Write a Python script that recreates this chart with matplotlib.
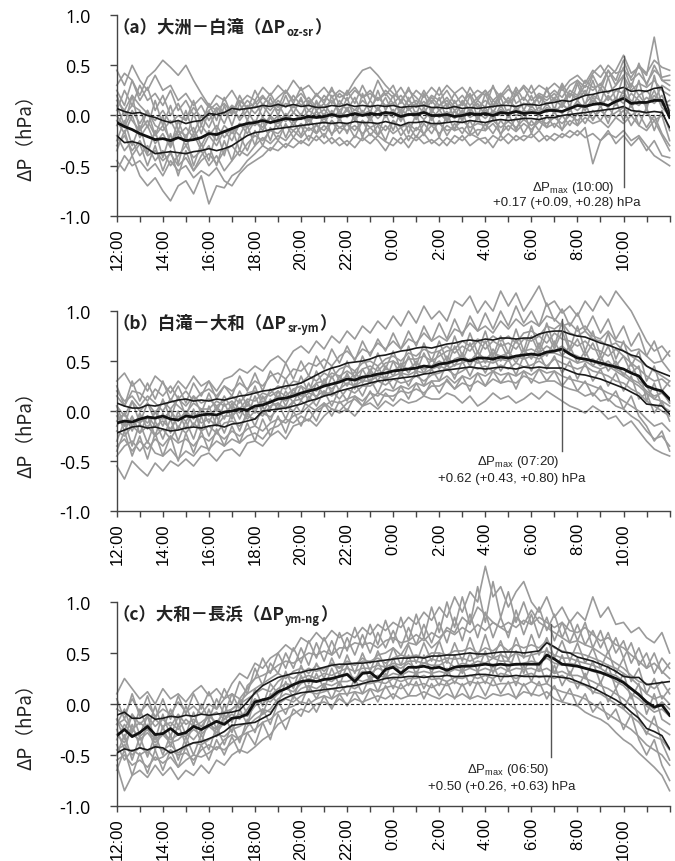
import numpy as np
import matplotlib
matplotlib.use("Agg")
import matplotlib.pyplot as plt
from matplotlib.transforms import offset_copy

plt.rcParams['font.family'] = ['Liberation Sans', 'Noto Sans CJK JP', 'DejaVu Sans']
plt.rcParams['mathtext.fontset'] = 'custom'
plt.rcParams['mathtext.rm'] = 'Liberation Sans'
plt.rcParams['mathtext.it'] = 'Liberation Sans:italic'
plt.rcParams['mathtext.bf'] = 'Liberation Sans:bold'

# ---------------- data (hPa), every 20 min from 12:00 to 12:00 next day ----------------
minutes_from_noon = np.arange(0, 24 * 60 + 1, 20)

# panel (a) 大洲－白滝
median_a = [-0.07,-0.11,-0.14, -0.18,-0.21,-0.24, -0.23,-0.25,-0.22, -0.25,-0.24,-0.22, -0.18,-0.19,-0.16, -0.13,-0.10,-0.08,
            -0.07,-0.05,-0.07, -0.05,-0.03,-0.04, -0.03,-0.01,-0.02, -0.01,0.01,-0.01, 0.00,0.02,0.00, 0.02,0.01,0.03,
            0.02,-0.01,0.01, 0.01,0.03,0.00, 0.00,0.01,-0.01, 0.00,0.02,0.01, 0.02,0.00,0.03, 0.02,0.04,0.02,
            0.03,0.02,0.05, 0.05,0.04,0.07, 0.10,0.09,0.11, 0.12,0.10,0.14, 0.17,0.12,0.13, 0.13,0.15,0.15, -0.02]
q75_a = [0.07,0.04,0.02, 0.03,0.00,-0.02, -0.05,-0.07,-0.05, -0.08,-0.06,-0.05, 0.02,0.01,0.03, 0.07,0.06,0.07,
         0.08,0.10,0.09, 0.11,0.09,0.11, 0.09,0.10,0.08, 0.08,0.10,0.09, 0.11,0.09,0.10, 0.09,0.10,0.09,
         0.10,0.08,0.09, 0.09,0.10,0.08, 0.08,0.07,0.09, 0.07,0.08,0.07, 0.08,0.09,0.10, 0.10,0.09,0.11,
         0.11,0.10,0.12, 0.13,0.15,0.14, 0.17,0.20,0.21, 0.23,0.24,0.26, 0.28,0.24,0.25, 0.24,0.27,0.28, 0.02]
q25_a = [-0.20,-0.27,-0.26, -0.28,-0.33,-0.38, -0.37,-0.36,-0.37, -0.38,-0.36,-0.35, -0.33,-0.35,-0.33, -0.30,-0.25,-0.20,
         -0.17,-0.16,-0.14, -0.13,-0.12,-0.11, -0.10,-0.09,-0.08, -0.07,-0.08,-0.07, -0.08,-0.06,-0.07, -0.07,-0.08,-0.06,
         -0.08,-0.10,-0.07, -0.07,-0.06,-0.08, -0.08,-0.07,-0.06, -0.07,-0.05,-0.06, -0.07,-0.05,-0.04, -0.05,-0.04,-0.03,
         -0.03,-0.04,-0.02, -0.02,0.00,0.01, 0.02,0.03,0.04, 0.05,0.06,0.07, 0.09,0.05,0.04, 0.03,0.04,0.03, -0.12]
days_a = [
    [0.30,0.42,0.35, 0.20,0.38,0.45, 0.55,0.48,0.40, 0.50,0.35,0.22, 0.10,0.05,0.12, 0.02,0.15,0.08, 0.12,0.20,0.10, 0.18,0.25,0.15,
     0.22,0.12,0.20, 0.15,0.25,0.18, 0.22,0.35,0.45, 0.48,0.40,0.30, 0.22,0.15,0.25, 0.18,0.10,0.20, 0.15,0.25,0.12, 0.20,0.10,0.18,
     0.25,0.15,0.22, 0.12,0.20,0.28, 0.15,0.22,0.18, 0.25,0.18,0.30, 0.35,0.28,0.42, 0.50,0.38,0.45, 0.60,0.42,0.48, 0.40,0.78,0.35, 0.30],
    [-0.45,-0.55,-0.40, -0.60,-0.70,-0.62, -0.75,-0.85,-0.70, -0.65,-0.78,-0.60, -0.88,-0.70,-0.72, -0.60,-0.55,-0.45, -0.38,-0.30,-0.35, -0.25,-0.32,-0.22,
     -0.28,-0.20,-0.25, -0.18,-0.28,-0.22, -0.30,-0.20,-0.25, -0.18,-0.25,-0.35, -0.22,-0.28,-0.20, -0.25,-0.18,-0.28, -0.22,-0.30,-0.20, -0.25,-0.18,-0.22,
     -0.28,-0.20,-0.25, -0.18,-0.25,-0.20, -0.22,-0.15,-0.25, -0.18,-0.22,-0.15, -0.20,-0.12,-0.48, -0.25,-0.18,-0.22, -0.15,-0.25,-0.20, -0.30,-0.40,-0.45, -0.50],
    [0.15,0.05,0.20, 0.10,0.02,-0.05, 0.05,-0.08,0.00, -0.05,0.08,-0.02, 0.05,0.12,0.02, 0.10,0.05,0.15, 0.08,0.18,0.12, 0.05,0.12,0.08,
     0.15,0.05,0.12, 0.08,0.15,0.05, 0.12,0.05,0.15, 0.08,0.18,0.10, 0.12,0.05,0.15, 0.08,0.14,0.06, 0.10,0.18,0.08, 0.12,0.05,0.15,
     0.08,0.30,0.10, 0.15,0.08,0.12, 0.10,0.18,0.12, 0.15,0.10,0.22, 0.18,0.30,0.25, 0.32,0.22,0.30, 0.40,0.25,0.32, 0.28,0.35,0.25, 0.20],
    [-0.30,-0.20,-0.35, -0.25,-0.40,-0.35, -0.45,-0.38,-0.50, -0.42,-0.55,-0.45, -0.38,-0.48,-0.35, -0.30,-0.40,-0.28, -0.20,-0.25,-0.15, -0.18,-0.10,-0.15,
     -0.08,-0.15,-0.10, -0.15,-0.05,-0.12, -0.08,-0.15,-0.05, -0.12,-0.08,-0.15, -0.05,-0.12,-0.08, -0.15,-0.05,-0.10, -0.08,-0.15,-0.12, -0.05,-0.12,-0.08,
     -0.10,-0.05,-0.12, -0.06,-0.12,-0.04, -0.10,-0.05,-0.08, -0.02,-0.08,0.00, -0.05,0.02,-0.03, 0.05,-0.02,0.03, 0.08,0.00,0.05, 0.02,-0.05,0.00, -0.25],
    [-0.10,0.05,-0.05, -0.15,-0.05,-0.20, -0.10,-0.25,-0.15, -0.20,-0.12,-0.30, -0.15,-0.25,-0.10, -0.18,-0.08,-0.12, -0.05,-0.12,0.00, -0.08,0.02,-0.05,
     0.00,-0.06,0.04, -0.04,0.03,-0.02, 0.05,-0.03,0.02, -0.02,0.06,0.00, 0.04,-0.04,0.02, -0.02,0.05,-0.03, 0.02,-0.05,0.04, -0.03,0.04,-0.01,
     0.05,-0.02,0.06, 0.00,0.07,0.02, 0.06,0.00,0.08, 0.04,0.10,0.06, 0.12,0.08,0.15, 0.10,0.18,0.12, 0.20,0.15,0.10, 0.18,0.12,0.20, 0.05],
    [-0.20,-0.35,-0.25, -0.40,-0.30,-0.45, -0.35,-0.50,-0.40, -0.30,-0.42,-0.35, -0.50,-0.40,-0.55, -0.45,-0.35,-0.40, -0.30,-0.22,-0.28, -0.20,-0.25,-0.15,
     -0.22,-0.12,-0.18, -0.10,-0.18,-0.12, -0.15,-0.10,-0.18, -0.12,-0.20,-0.10, -0.18,-0.12,-0.25, -0.12,-0.18,-0.10, -0.18,-0.10,-0.15, -0.12,-0.20,-0.14,
     -0.15,-0.08,-0.18, -0.10,-0.16,-0.08, -0.14,-0.06,-0.12, -0.08,-0.14,-0.05, -0.10,-0.02,-0.08, -0.05,-0.12,-0.02, -0.08,0.00,-0.10, -0.15,-0.05,-0.20, -0.35],
    [0.05,0.25,0.10, 0.30,0.15,0.22, 0.10,0.25,0.05, 0.15,0.00,0.10, -0.05,0.08,0.00, 0.05,-0.02,0.10, 0.02,0.12,0.05, 0.15,0.08,0.20,
     0.10,0.18,0.08, 0.20,0.12,0.22, 0.15,0.25,0.18, 0.22,0.15,0.25, 0.18,0.28,0.15, 0.25,0.18,0.28, 0.20,0.30,0.22, 0.28,0.18,0.25,
     0.20,0.28,0.18, 0.26,0.20,0.30, 0.22,0.30,0.25, 0.32,0.25,0.35, 0.40,0.32,0.45, 0.38,0.50,0.42, 0.45,0.38,0.50, 0.42,0.55,0.48, 0.45],
    [-0.55,-0.40,-0.50, -0.45,-0.55,-0.48, -0.60,-0.45,-0.55, -0.50,-0.62,-0.55, -0.60,-0.52,-0.65, -0.70,-0.58,-0.50, -0.45,-0.40,-0.32, -0.35,-0.28,-0.32,
     -0.25,-0.30,-0.20, -0.28,-0.22,-0.30, -0.25,-0.32,-0.22, -0.28,-0.20,-0.26, -0.30,-0.22,-0.32, -0.20,-0.28,-0.24, -0.30,-0.22,-0.28, -0.20,-0.30,-0.24,
     -0.22,-0.32,-0.20, -0.28,-0.20,-0.25, -0.18,-0.26,-0.20, -0.25,-0.18,-0.22, -0.15,-0.22,-0.18, -0.25,-0.15,-0.28, -0.20,-0.30,-0.22, -0.35,-0.25,-0.40, -0.42],
    [0.00,-0.12,0.05, -0.08,0.05,-0.10, -0.15,-0.05,-0.20, -0.12,-0.22,-0.10, -0.20,-0.10,-0.22, -0.12,-0.20,-0.05, -0.10,-0.02,-0.08, 0.00,-0.06,0.03,
     -0.04,0.05,0.00, 0.06,-0.02,0.04, -0.02,0.06,0.01, 0.05,-0.03,0.04, -0.02,0.06,0.00, 0.04,-0.04,0.05, -0.02,0.04,-0.03, 0.05,-0.02,0.03,
     -0.03,0.05,0.00, 0.06,0.00,0.05, 0.02,0.08,0.03, 0.08,0.02,0.10, 0.05,0.12,0.20, 0.15,0.08,0.18, 0.12,0.22,0.15, 0.10,0.20,0.12, 0.10],
    [0.45,0.30,0.50, 0.35,0.25,0.40, 0.25,0.30,0.15, 0.22,0.10,0.18, 0.08,0.20,0.15, 0.25,0.12,0.20, 0.15,0.28,0.20, 0.30,0.22,0.35,
     0.25,0.30,0.20, 0.28,0.18,0.25, 0.20,0.28,0.18, 0.25,0.15,0.22, 0.12,0.20,0.10, 0.15,0.08,0.18, 0.10,0.15,0.05, 0.12,0.22,0.08,
     0.15,0.08,0.20, 0.30,0.12,0.18, 0.10,0.20,0.15, 0.22,0.12,0.25, 0.20,0.35,0.28, 0.30,0.45,0.35, 0.55,0.35,0.42, 0.32,0.45,0.38, 0.40],
    [0.10,-0.10,0.20, -0.15,0.05,-0.20, 0.00,-0.30,-0.05, -0.25,0.02,-0.18, 0.05,-0.15,0.10, -0.10,0.12,-0.05, 0.15,-0.02,0.18, 0.00,0.20,0.02,
     0.18,-0.05,0.15, -0.02,0.20,0.00, 0.18,-0.05,0.22, 0.02,0.25,0.05, 0.20,-0.02,0.18, 0.00,0.22,0.02, 0.18,-0.05,0.15, 0.00,0.20,-0.02,
     0.22,0.02,0.18, 0.00,0.25,0.05, 0.20,0.02,0.28, 0.05,0.30,0.08, 0.32,0.10,0.35, 0.12,0.38,0.15, 0.40,0.10,0.35, 0.05,0.40,0.10, 0.15],
    [-0.25,-0.05,-0.30, -0.10,-0.38,-0.15, -0.42,-0.18,-0.48, -0.20,-0.50,-0.28, -0.45,-0.15,-0.40, -0.12,-0.35,-0.10, -0.30,-0.05,-0.25, -0.02,-0.22,-0.05,
     -0.20,0.00,-0.18, 0.02,-0.20,-0.02, -0.18,0.02,-0.22, 0.00,-0.20,0.02, -0.15,0.05,-0.18, 0.02,-0.20,0.00, -0.22,0.02,-0.15, 0.05,-0.18,0.00,
     -0.15,0.05,-0.20, 0.02,-0.15,0.05, -0.18,0.02,-0.12, 0.05,-0.15,0.08, -0.10,0.12,-0.05, 0.10,-0.08,0.15, -0.05,0.12,-0.10, 0.08,-0.15,0.05, -0.15],
    [0.20,0.00,0.10, 0.05,-0.12,0.15, -0.10,0.10,-0.15, 0.05,-0.18,0.00, -0.12,0.05,-0.08, 0.10,-0.05,0.05, -0.08,0.10,0.00, 0.12,-0.02,0.10,
     0.00,0.15,0.05, 0.12,0.00,0.15, 0.05,0.18,0.02, 0.15,0.05,0.18, 0.02,0.15,0.05, 0.12,0.02,0.15, 0.05,0.12,-0.02, 0.15,0.05,0.12,
     0.00,0.15,0.08, 0.18,0.05,0.12, 0.08,0.20,0.10, 0.18,0.08,0.22, 0.15,0.25,0.12, 0.28,0.15,0.25, 0.22,0.32,0.20, 0.25,0.15,0.30, 0.25],
    [-0.35,-0.15,-0.40, -0.28,-0.50,-0.30, -0.55,-0.35,-0.60, -0.35,-0.55,-0.40, -0.30,-0.50,-0.25, -0.45,-0.20,-0.35, -0.15,-0.30,-0.12, -0.25,-0.08,-0.22,
     -0.10,-0.25,-0.08, -0.22,-0.05,-0.18, -0.08,-0.22,-0.05, -0.20,-0.10,-0.25, -0.05,-0.20,-0.10, -0.22,-0.08,-0.18, -0.05,-0.20,-0.08, -0.18,-0.05,-0.20,
     -0.08,-0.18,-0.05, -0.15,-0.02,-0.18, -0.05,-0.15,0.00, -0.12,0.00,-0.10, 0.02,-0.08,0.05, -0.05,0.08,-0.02, 0.05,-0.10,0.02, -0.12,0.00,-0.18, -0.30],
    [-0.05,-0.18,0.00, -0.22,-0.10,-0.28, -0.18,-0.32,-0.15, -0.30,-0.18,-0.35, -0.20,-0.30,-0.15, -0.25,-0.08,-0.18, -0.05,-0.15,-0.02, -0.12,0.00,-0.10,
     0.02,-0.10,0.05, -0.08,0.05,-0.05, 0.08,-0.05,0.05, -0.05,0.08,-0.02, 0.06,-0.06,0.08, -0.04,0.08,-0.05, 0.06,-0.06,0.05, -0.05,0.08,-0.04,
     0.08,-0.04,0.10, -0.02,0.08,-0.04, 0.10,0.00,0.12, 0.02,0.12,0.04, 0.15,0.05,0.18, 0.08,0.20,0.10, 0.25,0.08,0.20, 0.10,0.25,0.08, 0.00],
    [0.25,0.10,0.35, 0.15,0.28,0.05, 0.20,0.00,0.12, -0.05,0.15,-0.10, 0.12,-0.05,0.18, 0.00,0.20,0.05, 0.25,0.10,0.22, 0.08,0.25,0.12,
     0.28,0.10,0.22, 0.12,0.28,0.10, 0.25,0.12,0.30, 0.15,0.35,0.20, 0.30,0.12,0.28, 0.10,0.25,0.12, 0.28,0.08,0.22, 0.10,0.28,0.15,
     0.25,0.10,0.22, 0.12,0.28,0.15, 0.30,0.12,0.25, 0.15,0.32,0.18, 0.35,0.20,0.40, 0.25,0.45,0.30, 0.48,0.28,0.52, 0.30,0.50,0.35, 0.35],
]

# panel (b) 白滝－大和
median_b = [-0.12,-0.10,-0.11, -0.08,-0.06,-0.07, -0.05,-0.08,-0.09, -0.05,-0.06,-0.04, -0.03,-0.04,-0.01, 0.00,0.02,0.01,
            0.05,0.06,0.09, 0.12,0.13,0.15, 0.18,0.20,0.22, 0.25,0.27,0.29, 0.32,0.31,0.34, 0.35,0.37,0.38,
            0.40,0.41,0.42, 0.43,0.45,0.44, 0.47,0.48,0.50, 0.52,0.50,0.53, 0.53,0.52,0.54, 0.53,0.55,0.56,
            0.57,0.56,0.59, 0.60,0.62,0.57, 0.53,0.52,0.50, 0.48,0.46,0.44, 0.42,0.38,0.35, 0.25,0.22,0.20, 0.12]
q75_b = [0.08,0.05,0.03, 0.03,0.06,0.05, 0.07,0.09,0.11, 0.12,0.10,0.11, 0.10,0.12,0.11, 0.13,0.15,0.16,
         0.18,0.20,0.21, 0.23,0.25,0.26, 0.28,0.32,0.36, 0.40,0.43,0.45, 0.48,0.49,0.50, 0.52,0.55,0.56,
         0.58,0.60,0.61, 0.63,0.64,0.63, 0.65,0.67,0.68, 0.70,0.71,0.70, 0.72,0.71,0.73, 0.73,0.72,0.73,
         0.73,0.77,0.79, 0.80,0.80,0.77, 0.75,0.74,0.71, 0.68,0.66,0.63, 0.60,0.56,0.54, 0.45,0.41,0.38, 0.35]
q25_b = [-0.22,-0.19,-0.16, -0.15,-0.17,-0.16, -0.18,-0.20,-0.19, -0.17,-0.16,-0.17, -0.15,-0.14,-0.16, -0.13,-0.12,-0.10,
         -0.08,0.00,0.01, 0.02,0.03,0.05, 0.07,0.10,0.12, 0.15,0.17,0.20, 0.22,0.24,0.26, 0.28,0.30,0.31,
         0.32,0.33,0.34, 0.35,0.37,0.38, 0.40,0.41,0.42, 0.43,0.44,0.43, 0.42,0.43,0.44, 0.43,0.42,0.44,
         0.43,0.44,0.43, 0.43,0.43,0.40, 0.37,0.36,0.34, 0.32,0.29,0.26, 0.23,0.19,0.15, 0.07,0.06,0.05, -0.03]
days_b = [
    [0.30,0.38,0.25, 0.32,0.20,0.35, 0.28,0.18,0.30, 0.22,0.35,0.25, 0.30,0.20,0.32, 0.35,0.42,0.38, 0.45,0.40,0.50, 0.55,0.48,0.60,
     0.65,0.58,0.70, 0.62,0.75,0.68, 0.80,0.72,0.85, 0.78,0.90,0.82, 0.95,0.85,1.00, 0.88,1.05,0.92, 1.00,0.90,1.10, 1.05,1.15,0.98,
     1.10,1.00,1.20, 1.05,1.18,1.00, 1.12,1.25,1.05, 1.10,0.98,1.05, 0.95,1.10,1.00, 1.15,1.05,1.20, 1.10,1.00,0.85, 0.70,0.60,0.65, 0.55],
    [0.15,0.05,0.20, 0.18,0.10,0.22, 0.15,0.25,0.12, 0.20,0.10,0.18, 0.22,0.15,0.25, 0.20,0.28,0.22, 0.30,0.25,0.35, 0.38,0.32,0.42,
     0.40,0.48,0.45, 0.52,0.45,0.55, 0.60,0.52,0.62, 0.58,0.68,0.62, 0.70,0.62,0.72, 0.68,0.78,0.70, 0.75,0.70,0.82, 0.78,0.88,0.80,
     0.85,0.78,0.90, 0.82,0.92,0.85, 0.90,0.85,0.95, 0.92,0.85,0.88, 0.80,0.85,0.75, 0.72,0.80,0.70, 0.68,0.60,0.62, 0.55,0.48,0.50, 0.40],
    [0.05,-0.05,0.10, 0.00,0.08,-0.02, 0.10,0.02,0.12, 0.05,0.15,0.08, 0.12,0.05,0.10, 0.15,0.08,0.18, 0.20,0.12,0.18, 0.25,0.22,0.30,
     0.28,0.35,0.30, 0.38,0.33,0.42, 0.45,0.40,0.48, 0.50,0.45,0.52, 0.55,0.50,0.58, 0.55,0.62,0.58, 0.60,0.65,0.58, 0.65,0.60,0.70,
     0.62,0.70,0.65, 0.68,0.62,0.72, 0.70,0.75,0.68, 0.78,0.72,0.70, 0.65,0.70,0.62, 0.60,0.55,0.62, 0.55,0.48,0.42, 0.35,0.30,0.32, 0.25],
    [-0.10,-0.02,-0.15, -0.05,-0.12,-0.02, -0.08,0.00,-0.10, 0.00,-0.08,0.02, -0.05,0.03,-0.02, 0.05,-0.02,0.06, 0.02,0.10,0.08, 0.15,0.10,0.18,
     0.15,0.22,0.20, 0.28,0.22,0.30, 0.35,0.30,0.32, 0.38,0.35,0.42, 0.40,0.45,0.42, 0.48,0.42,0.45, 0.50,0.45,0.52, 0.55,0.50,0.58,
     0.52,0.58,0.55, 0.58,0.52,0.60, 0.62,0.58,0.65, 0.60,0.65,0.58, 0.55,0.50,0.52, 0.45,0.50,0.42, 0.38,0.32,0.28, 0.20,0.15,0.18, 0.10],
    [-0.20,-0.25,-0.15, -0.22,-0.15,-0.25, -0.18,-0.28,-0.15, -0.22,-0.12,-0.20, -0.15,-0.22,-0.12, -0.10,-0.15,-0.05, -0.08,-0.02,-0.06, 0.02,0.05,0.00,
     0.10,0.05,0.12, 0.15,0.20,0.12, 0.22,0.18,0.25, 0.25,0.30,0.26, 0.32,0.28,0.30, 0.35,0.30,0.36, 0.38,0.42,0.36, 0.40,0.45,0.42,
     0.45,0.40,0.46, 0.42,0.48,0.44, 0.46,0.50,0.45, 0.52,0.48,0.45, 0.42,0.45,0.40, 0.38,0.35,0.30, 0.28,0.22,0.18, 0.10,0.05,0.00, -0.05],
    [-0.35,-0.28,-0.40, -0.30,-0.38,-0.28, -0.35,-0.25,-0.32, -0.28,-0.35,-0.25, -0.30,-0.22,-0.28, -0.20,-0.25,-0.18, -0.15,-0.20,-0.12, -0.08,-0.12,-0.05,
     -0.02,0.05,0.00, 0.05,0.10,0.08, 0.12,0.15,0.10, 0.18,0.15,0.22, 0.20,0.25,0.22, 0.28,0.25,0.30, 0.30,0.35,0.28, 0.35,0.32,0.38,
     0.35,0.40,0.36, 0.38,0.35,0.40, 0.36,0.42,0.38, 0.40,0.35,0.32, 0.30,0.28,0.25, 0.22,0.18,0.15, 0.10,0.05,0.00, -0.08,-0.15,-0.12, -0.20],
    [-0.55,-0.68,-0.50, -0.58,-0.65,-0.52, -0.60,-0.50,-0.55, -0.48,-0.55,-0.45, -0.42,-0.50,-0.40, -0.38,-0.45,-0.32, -0.30,-0.35,-0.25, -0.20,-0.28,-0.15,
     -0.12,-0.08,-0.15, -0.05,0.02,-0.02, 0.02,-0.05,0.05, 0.08,0.02,0.10, 0.05,0.12,0.08, 0.10,0.15,0.12, 0.12,0.18,0.15, 0.08,0.15,0.05,
     0.10,0.18,0.12, 0.15,0.08,0.12, 0.18,0.12,0.20, 0.15,0.10,0.05, 0.02,-0.02,0.05, 0.00,-0.08,-0.05, -0.15,-0.10,-0.20, -0.30,-0.38,-0.42, -0.45],
    [0.20,0.10,0.15, 0.05,0.15,0.08, 0.00,0.12,0.05, -0.02,0.08,0.02, 0.02,0.10,0.05, 0.10,0.02,0.12, 0.10,0.18,0.15, 0.20,0.15,0.22,
     0.25,0.20,0.28, 0.30,0.38,0.35, 0.40,0.35,0.42, 0.45,0.40,0.48, 0.50,0.45,0.52, 0.52,0.55,0.50, 0.55,0.60,0.62, 0.70,0.65,0.72,
     0.68,0.75,0.70, 0.75,0.68,0.78, 0.80,0.75,0.85, 0.82,0.88,0.78, 0.75,0.80,0.72, 0.70,0.65,0.68, 0.60,0.55,0.50, 0.45,0.40,0.35, 0.30],
    [-0.05,-0.15,-0.08, -0.12,-0.05,-0.15, -0.10,-0.18,-0.05, -0.10,-0.02,-0.12, -0.08,-0.15,-0.05, -0.05,0.02,-0.08, 0.00,-0.05,0.05, 0.08,0.02,0.10,
     0.12,0.18,0.15, 0.20,0.15,0.22, 0.28,0.25,0.30, 0.30,0.35,0.32, 0.35,0.38,0.36, 0.40,0.38,0.42, 0.45,0.42,0.46, 0.48,0.52,0.48,
     0.50,0.48,0.52, 0.50,0.55,0.52, 0.55,0.52,0.58, 0.58,0.55,0.52, 0.48,0.50,0.45, 0.42,0.45,0.40, 0.35,0.30,0.25, 0.18,0.12,0.10, 0.05],
    [-0.45,-0.35,-0.30, -0.40,-0.30,-0.42, -0.45,-0.38,-0.48, -0.40,-0.45,-0.35, -0.38,-0.30,-0.35, -0.28,-0.32,-0.25, -0.22,-0.28,-0.18, -0.15,-0.08,-0.12,
     -0.05,-0.10,0.02, 0.08,0.02,0.00, 0.08,0.12,0.05, 0.12,0.18,0.15, 0.15,0.20,0.18, 0.22,0.18,0.25, 0.25,0.30,0.22, 0.28,0.25,0.30,
     0.25,0.32,0.28, 0.30,0.28,0.35, 0.32,0.28,0.30, 0.30,0.25,0.22, 0.20,0.15,0.18, 0.10,0.12,0.05, 0.02,-0.05,-0.10, -0.20,-0.28,-0.25, -0.35],
    [0.05,-0.15,0.10, -0.12,0.08,-0.10, 0.12,-0.08,0.15, -0.05,0.15,-0.02, 0.18,0.00,0.15, 0.02,0.20,0.05, 0.25,0.05,0.22, 0.12,0.32,0.15,
     0.35,0.18,0.40, 0.25,0.45,0.30, 0.50,0.32,0.55, 0.38,0.58,0.42, 0.60,0.42,0.65, 0.45,0.68,0.50, 0.70,0.50,0.75, 0.55,0.78,0.58,
     0.80,0.55,0.75, 0.58,0.82,0.60, 0.85,0.62,0.88, 0.65,0.90,0.62, 0.85,0.60,0.80, 0.55,0.78,0.52, 0.70,0.45,0.60, 0.30,0.45,0.20, 0.30],
    [-0.30,-0.10,-0.35, -0.12,-0.32,-0.10, -0.28,-0.08,-0.30, -0.10,-0.28,-0.05, -0.25,-0.05,-0.22, -0.02,-0.20,0.00, -0.15,0.05,-0.10, 0.08,-0.08,0.10,
     -0.02,0.15,0.05, 0.20,0.05,0.22, 0.10,0.28,0.15, 0.32,0.18,0.35, 0.22,0.38,0.25, 0.40,0.25,0.42, 0.30,0.48,0.32, 0.50,0.35,0.52,
     0.38,0.55,0.40, 0.52,0.36,0.55, 0.40,0.58,0.42, 0.55,0.38,0.50, 0.32,0.48,0.30, 0.42,0.25,0.38, 0.20,0.35,0.12, 0.18,-0.02,0.10, -0.10],
    [0.25,0.05,0.30, 0.10,0.28,0.12, 0.30,0.10,0.25, 0.08,0.28,0.15, 0.30,0.12,0.25, 0.15,0.35,0.20, 0.38,0.20,0.40, 0.28,0.48,0.32,
     0.50,0.35,0.55, 0.42,0.62,0.48, 0.65,0.50,0.70, 0.55,0.72,0.60, 0.78,0.62,0.80, 0.65,0.85,0.70, 0.88,0.72,0.92, 0.75,0.95,0.80,
     0.98,0.82,1.00, 0.85,1.05,0.88, 1.00,0.85,1.08, 0.90,1.02,0.85, 0.98,0.80,0.95, 0.78,0.92,0.72, 0.85,0.65,0.78, 0.55,0.70,0.50, 0.60],
    [-0.40,-0.20,-0.45, -0.25,-0.48,-0.22, -0.45,-0.25,-0.50, -0.22,-0.42,-0.20, -0.40,-0.18,-0.35, -0.15,-0.32,-0.12, -0.30,-0.08,-0.25, -0.05,-0.22,0.00,
     -0.15,0.02,-0.10, 0.08,-0.05,0.10, 0.00,0.15,0.05, 0.20,0.05,0.18, 0.10,0.25,0.12, 0.28,0.15,0.30, 0.18,0.32,0.22, 0.35,0.20,0.38,
     0.25,0.40,0.28, 0.38,0.22,0.40, 0.28,0.42,0.30, 0.40,0.25,0.35, 0.20,0.30,0.15, 0.25,0.10,0.20, 0.02,0.15,-0.05, -0.15,-0.30,-0.20, -0.40],
    [-0.15,-0.02,-0.20, -0.02,-0.18,0.00, -0.15,0.02,-0.18, 0.00,-0.15,0.02, -0.12,0.05,-0.08, 0.08,-0.08,0.10, -0.02,0.15,0.02, 0.20,0.05,0.22,
     0.10,0.28,0.12, 0.32,0.18,0.35, 0.25,0.40,0.28, 0.42,0.30,0.45, 0.35,0.48,0.38, 0.50,0.38,0.52, 0.42,0.55,0.45, 0.58,0.45,0.60,
     0.48,0.62,0.50, 0.60,0.48,0.62, 0.52,0.68,0.55, 0.70,0.55,0.65, 0.48,0.60,0.45, 0.55,0.40,0.50, 0.35,0.48,0.30, 0.25,0.12,0.20, 0.08],
    [0.00,-0.20,-0.05, -0.22,-0.05,-0.25, -0.02,-0.22,0.00, -0.18,0.02,-0.20, 0.05,-0.15,0.08, -0.08,0.12,-0.05, 0.15,-0.02,0.12, 0.02,0.20,0.08,
     0.25,0.10,0.28, 0.15,0.35,0.20, 0.38,0.22,0.42, 0.28,0.45,0.30, 0.50,0.35,0.55, 0.38,0.58,0.42, 0.60,0.45,0.65, 0.50,0.68,0.52,
     0.70,0.50,0.68, 0.52,0.72,0.55, 0.75,0.58,0.78, 0.62,0.80,0.60, 0.72,0.55,0.68, 0.50,0.65,0.45, 0.55,0.38,0.45, 0.10,0.28,0.05, 0.00],
]

# panel (c) 大和－長浜
median_c = [-0.31,-0.25,-0.32, -0.28,-0.22,-0.30, -0.29,-0.24,-0.30, -0.28,-0.22,-0.25, -0.21,-0.17,-0.20, -0.14,-0.13,-0.10,
            0.02,0.04,0.06, 0.12,0.15,0.19, 0.22,0.23,0.22, 0.24,0.25,0.27, 0.29,0.22,0.30, 0.31,0.25,0.34,
            0.36,0.30,0.36, 0.36,0.37,0.35, 0.36,0.33,0.36, 0.37,0.37,0.38, 0.39,0.38,0.39, 0.38,0.39,0.39,
            0.39,0.39,0.48, 0.44,0.39,0.38, 0.37,0.35,0.33, 0.31,0.28,0.25, 0.21,0.15,0.09, 0.02,-0.03,-0.01, -0.11]
q75_c = [-0.11,-0.08,-0.14, -0.14,-0.10,-0.15, -0.14,-0.12,-0.13, -0.11,-0.12,-0.10, -0.11,-0.10,-0.09, -0.08,-0.06,0.02,
         0.11,0.18,0.22, 0.26,0.28,0.30, 0.31,0.33,0.34, 0.36,0.38,0.39, 0.39,0.40,0.40, 0.41,0.42,0.43,
         0.44,0.45,0.45, 0.46,0.45,0.47, 0.47,0.48,0.48, 0.49,0.50,0.49, 0.49,0.50,0.51, 0.51,0.51,0.50,
         0.51,0.52,0.60, 0.56,0.51,0.50, 0.46,0.44,0.42, 0.39,0.36,0.32, 0.27,0.26,0.26, 0.19,0.20,0.21, 0.22]
q25_c = [-0.48,-0.44,-0.46, -0.43,-0.45,-0.42, -0.43,-0.48,-0.45, -0.41,-0.38,-0.37, -0.34,-0.31,-0.27, -0.21,-0.20,-0.19,
         -0.18,-0.14,-0.10, 0.02,0.06,0.09, 0.11,0.12,0.13, 0.14,0.15,0.16, 0.17,0.18,0.20, 0.22,0.23,0.25,
         0.26,0.26,0.27, 0.27,0.26,0.27, 0.27,0.28,0.27, 0.27,0.28,0.29, 0.29,0.28,0.27, 0.27,0.28,0.27,
         0.27,0.27,0.27, 0.27,0.26,0.25, 0.22,0.19,0.16, 0.12,0.08,0.04, -0.01,-0.08,-0.14, -0.24,-0.27,-0.31, -0.44]
days_c = [
    [0.10,0.25,0.15, 0.05,0.12,0.00, 0.15,0.05,0.10, 0.02,0.12,0.18, 0.08,0.15,0.05, 0.20,0.30,0.25, 0.40,0.35,0.45, 0.50,0.58,0.52,
     0.65,0.60,0.70, 0.62,0.72,0.65, 0.70,0.65,0.75, 0.68,0.78,0.72, 0.80,0.75,0.85, 0.78,0.90,0.82, 0.95,0.85,1.05, 0.90,1.10,1.00,
     1.35,1.05,1.15, 0.95,1.10,1.20, 1.00,0.90,1.05, 0.85,0.95,0.80, 0.90,0.82,1.05, 0.85,0.95,0.78, 0.80,0.70,0.75, 0.65,0.60,0.70, 0.50],
    [-0.05,-0.10,0.05, -0.08,0.00,-0.12, -0.05,-0.10,0.02, -0.08,-0.02,-0.10, 0.00,-0.05,0.05, 0.10,0.05,0.15, 0.25,0.28,0.32, 0.38,0.42,0.40,
     0.45,0.50,0.48, 0.52,0.48,0.55, 0.55,0.60,0.58, 0.60,0.55,0.62, 0.65,0.60,0.62, 0.68,0.62,0.70, 0.65,0.72,0.68, 0.75,0.70,0.78,
     0.72,0.80,0.75, 0.80,0.75,0.82, 0.78,0.85,0.80, 0.75,0.80,0.72, 0.70,0.75,0.68, 0.62,0.65,0.58, 0.55,0.48,0.42, 0.35,0.40,0.32, 0.25],
    [-0.20,-0.15,-0.25, -0.18,-0.25,-0.15, -0.22,-0.18,-0.25, -0.15,-0.22,-0.18, -0.12,-0.08,-0.15, -0.05,0.00,0.05, 0.10,0.15,0.12, 0.22,0.28,0.25,
     0.30,0.35,0.32, 0.35,0.38,0.35, 0.40,0.38,0.42, 0.42,0.45,0.40, 0.45,0.48,0.46, 0.48,0.45,0.50, 0.50,0.48,0.52, 0.52,0.55,0.50,
     0.55,0.52,0.58, 0.52,0.58,0.55, 0.58,0.55,0.62, 0.55,0.52,0.50, 0.50,0.48,0.45, 0.42,0.38,0.35, 0.30,0.25,0.18, 0.10,0.05,0.08, 0.00],
    [-0.30,-0.38,-0.25, -0.32,-0.25,-0.35, -0.28,-0.35,-0.30, -0.32,-0.25,-0.30, -0.22,-0.28,-0.18, -0.15,-0.10,-0.12, -0.02,0.05,0.02, 0.10,0.15,0.12,
     0.20,0.25,0.22, 0.25,0.22,0.28, 0.30,0.25,0.32, 0.30,0.35,0.32, 0.38,0.35,0.40, 0.35,0.40,0.38, 0.38,0.42,0.36, 0.40,0.38,0.42,
     0.40,0.45,0.42, 0.42,0.38,0.40, 0.42,0.40,0.45, 0.40,0.38,0.40, 0.38,0.35,0.32, 0.30,0.28,0.22, 0.18,0.10,0.05, -0.02,-0.08,-0.05, -0.12],
    [-0.45,-0.40,-0.50, -0.42,-0.48,-0.40, -0.45,-0.40,-0.48, -0.42,-0.38,-0.40, -0.35,-0.30,-0.32, -0.25,-0.22,-0.18, -0.10,-0.05,-0.08, 0.00,0.05,0.02,
     0.08,0.12,0.10, 0.12,0.15,0.12, 0.18,0.15,0.20, 0.20,0.22,0.20, 0.25,0.22,0.25, 0.25,0.28,0.24, 0.25,0.22,0.26, 0.25,0.28,0.25,
     0.28,0.25,0.30, 0.28,0.25,0.28, 0.30,0.26,0.28, 0.25,0.28,0.22, 0.20,0.18,0.12, 0.10,0.05,0.00, -0.05,-0.12,-0.18, -0.28,-0.32,-0.35, -0.45],
    [-0.60,-0.85,-0.70, -0.65,-0.72,-0.60, -0.70,-0.62,-0.74, -0.65,-0.70,-0.60, -0.68,-0.55,-0.60, -0.50,-0.45,-0.48, -0.42,-0.35,-0.30, -0.20,-0.15,-0.10,
     -0.05,-0.08,0.00, 0.02,-0.02,0.05, 0.00,0.05,0.02, 0.05,0.08,0.05, 0.10,0.05,0.08, 0.08,0.12,0.08, 0.05,0.10,0.06, 0.10,0.05,0.08,
     0.05,0.10,0.08, 0.10,0.06,0.12, 0.10,0.08,0.12, 0.05,0.02,0.00, -0.02,-0.08,-0.12, -0.15,-0.20,-0.28, -0.35,-0.40,-0.48, -0.55,-0.62,-0.70, -0.85],
    [-0.15,-0.25,-0.10, -0.20,-0.12,-0.22, -0.15,-0.22,-0.10, -0.20,-0.15,-0.22, -0.12,-0.18,-0.08, -0.05,0.02,0.10, 0.15,0.20,0.25, 0.30,0.25,0.32,
     0.35,0.30,0.38, 0.32,0.40,0.36, 0.42,0.38,0.45, 0.40,0.48,0.50, 0.55,0.48,0.60, 0.58,0.65,0.55, 0.62,0.75,0.70, 0.85,0.78,0.95,
     0.88,0.80,0.75, 0.70,0.85,0.78, 0.92,0.80,0.75, 0.70,0.65,0.60, 0.62,0.58,0.55, 0.50,0.45,0.40, 0.35,0.28,0.22, 0.20,0.15,0.22, 0.10],
    [-0.55,-0.50,-0.60, -0.55,-0.62,-0.52, -0.58,-0.52,-0.62, -0.55,-0.50,-0.52, -0.48,-0.42,-0.45, -0.38,-0.32,-0.28, -0.25,-0.18,-0.15, -0.08,-0.05,-0.02,
     0.02,0.00,0.05, 0.08,0.05,0.10, 0.10,0.12,0.10, 0.15,0.12,0.16, 0.18,0.15,0.20, 0.18,0.20,0.16, 0.20,0.18,0.22, 0.18,0.22,0.20,
     0.22,0.18,0.20, 0.20,0.22,0.18, 0.22,0.18,0.20, 0.15,0.12,0.10, 0.08,0.05,0.00, -0.05,-0.10,-0.15, -0.20,-0.25,-0.32, -0.40,-0.45,-0.50, -0.60],
    [-0.35,-0.20,-0.30, -0.35,-0.28,-0.38, -0.30,-0.38,-0.35, -0.28,-0.35,-0.25, -0.20,-0.25,-0.15, -0.10,-0.15,-0.05, 0.05,0.00,0.08, 0.15,0.20,0.18,
     0.25,0.28,0.25, 0.30,0.28,0.32, 0.35,0.32,0.35, 0.35,0.38,0.36, 0.40,0.38,0.42, 0.42,0.40,0.44, 0.42,0.45,0.44, 0.45,0.42,0.46,
     0.48,0.45,0.48, 0.45,0.50,0.46, 0.48,0.50,0.52, 0.48,0.45,0.45, 0.42,0.40,0.38, 0.35,0.30,0.28, 0.22,0.15,0.10, 0.00,-0.05,0.02, -0.05],
    [-0.40,-0.55,-0.45, -0.50,-0.45,-0.55, -0.52,-0.45,-0.50, -0.48,-0.55,-0.45, -0.40,-0.45,-0.35, -0.30,-0.35,-0.22, -0.15,-0.10,-0.05, 0.05,0.10,0.08,
     0.15,0.18,0.15, 0.20,0.18,0.22, 0.22,0.25,0.22, 0.25,0.28,0.26, 0.30,0.28,0.32, 0.30,0.32,0.30, 0.32,0.30,0.34, 0.32,0.35,0.32,
     0.35,0.32,0.36, 0.32,0.35,0.34, 0.35,0.32,0.35, 0.30,0.32,0.28, 0.28,0.25,0.22, 0.18,0.15,0.10, 0.05,-0.02,-0.08, -0.15,-0.20,-0.25, -0.30],
    [-0.15,-0.35,-0.10, -0.30,-0.12,-0.35, -0.10,-0.32,-0.12, -0.30,-0.08,-0.28, -0.05,-0.25,0.00, -0.18,0.05,-0.10, 0.15,-0.02,0.20, 0.10,0.32,0.15,
     0.38,0.20,0.40, 0.25,0.45,0.28, 0.48,0.30,0.50, 0.32,0.52,0.35, 0.55,0.38,0.58, 0.40,0.60,0.42, 0.62,0.40,0.60, 0.42,0.65,0.45,
     0.68,0.45,0.62, 0.42,0.65,0.45, 0.68,0.48,0.65, 0.45,0.62,0.42, 0.60,0.40,0.55, 0.35,0.52,0.30, 0.45,0.22,0.35, 0.10,0.25,0.05, 0.15],
    [-0.50,-0.30,-0.55, -0.32,-0.52,-0.30, -0.50,-0.30,-0.55, -0.32,-0.50,-0.30, -0.45,-0.22,-0.40, -0.20,-0.38,-0.15, -0.28,-0.05,-0.20, 0.02,-0.10,0.08,
     0.00,0.18,0.05, 0.20,0.05,0.22, 0.08,0.25,0.10, 0.28,0.12,0.30, 0.15,0.32,0.18, 0.32,0.15,0.30, 0.18,0.35,0.20, 0.35,0.18,0.32,
     0.20,0.38,0.22, 0.35,0.18,0.38, 0.22,0.40,0.20, 0.38,0.18,0.32, 0.15,0.30,0.10, 0.22,0.02,0.15, -0.05,0.10,-0.15, -0.30,-0.12,-0.38, -0.55],
    [0.05,-0.15,0.10, -0.12,0.08,-0.15, 0.05,-0.15,0.08, -0.10,0.10,-0.05, 0.12,-0.05,0.15, 0.00,0.22,0.10, 0.35,0.18,0.40, 0.30,0.50,0.35,
     0.55,0.38,0.60, 0.42,0.62,0.45, 0.65,0.48,0.68, 0.50,0.70,0.55, 0.72,0.55,0.75, 0.58,0.78,0.60, 0.80,0.60,0.85, 0.62,0.88,0.65,
     0.90,0.65,0.85, 0.65,0.92,0.68, 0.88,0.65,0.85, 0.62,0.80,0.60, 0.78,0.58,0.72, 0.55,0.70,0.50, 0.62,0.40,0.55, 0.35,0.50,0.30, 0.40],
    [-0.65,-0.45,-0.70, -0.48,-0.68,-0.45, -0.65,-0.45,-0.62, -0.42,-0.60,-0.40, -0.55,-0.35,-0.50, -0.32,-0.48,-0.28, -0.40,-0.18,-0.35, -0.10,-0.25,-0.05,
     -0.12,0.05,-0.08, 0.08,-0.05,0.10, -0.02,0.12,0.00, 0.15,0.02,0.18, 0.05,0.20,0.08, 0.22,0.05,0.20, 0.08,0.22,0.05, 0.20,0.05,0.22,
     0.08,0.25,0.10, 0.22,0.05,0.20, 0.08,0.22,0.05, 0.18,0.02,0.15, -0.02,0.10,-0.08, 0.02,-0.15,-0.05, -0.25,-0.10,-0.35, -0.50,-0.35,-0.60, -0.75],
    [-0.25,-0.45,-0.20, -0.42,-0.20,-0.45, -0.22,-0.42,-0.20, -0.40,-0.18,-0.38, -0.15,-0.32,-0.10, -0.28,-0.05,-0.20, 0.05,-0.10,0.10, 0.00,0.22,0.05,
     0.28,0.12,0.30, 0.15,0.35,0.18, 0.38,0.20,0.40, 0.22,0.42,0.25, 0.45,0.28,0.48, 0.28,0.48,0.30, 0.50,0.28,0.48, 0.30,0.50,0.32,
     0.52,0.30,0.50, 0.32,0.52,0.30, 0.50,0.32,0.55, 0.30,0.48,0.28, 0.45,0.25,0.42, 0.20,0.38,0.15, 0.30,0.05,0.20, -0.10,0.10,-0.15, -0.20],
    [-0.20,-0.05,-0.28, -0.05,-0.25,-0.02, -0.25,-0.05,-0.22, -0.02,-0.20,0.00, -0.15,0.05,-0.10, 0.10,-0.05,0.18, 0.25,0.45,0.30, 0.50,0.35,0.55,
     0.40,0.62,0.45, 0.65,0.48,0.70, 0.52,0.75,0.55, 0.78,0.58,0.82, 0.60,0.85,0.62, 0.88,0.65,0.95, 0.70,1.00,0.75, 1.05,0.78,1.15,
     0.80,1.20,0.85, 1.10,0.80,1.00, 0.78,0.95,0.72, 0.88,0.65,0.82, 0.62,0.80,0.55, 0.72,0.50,0.65, 0.45,0.60,0.38, 0.50,0.30,0.45, 0.35],
]

panel_letters = ["a", "b", "c"]
panel_names = ["大洲－白滝", "白滝－大和", "大和－長浜"]
panel_subs = ["oz-sr", "sr-ym", "ym-ng"]
max_times = ["10:00", "07:20", "06:50"]
max_minutes = [22 * 60, 19 * 60 + 20, 18 * 60 + 50]
max_texts = ["+0.17 (+0.09, +0.28) hPa", "+0.62 (+0.43, +0.80) hPa", "+0.50 (+0.26, +0.63) hPa"]
max_line_span = [(0.59, -0.71), (0.92, -0.40), (0.78, -0.52)]
label_pos = [((19.8, -0.71), (19.53, -0.86)), ((17.43, -0.50), (17.14, -0.67)), ((17.0, -0.64), (16.71, -0.80))]

y_ticks = [-1.0, -0.5, 0.0, 0.5, 1.0]
y_tick_labels = ["-1.0", "-0.5", "0.0", "0.5", "1.0"]
hour_ticks = list(range(0, 25))
hour_labels = [f"{(12 + h) % 24}:00" if (h % 2 == 0 and h < 24) else "" for h in hour_ticks]

# ---------------- figure ----------------
fig = plt.figure(figsize=(6.75, 8.62), dpi=100)
axes_rects = [[0.173, 0.7483, 0.819, 0.2331], [0.173, 0.406, 0.819, 0.232], [0.173, 0.0638, 0.819, 0.2367]]
ylabel_centers = [133, 430, 722]

panels = [(median_a, q25_a, q75_a, days_a), (median_b, q25_b, q75_b, days_b), (median_c, q25_c, q75_c, days_c)]
hours = minutes_from_noon / 60.0

renderer = fig.canvas.get_renderer()
for k, (med, q25, q75, days) in enumerate(panels):
    ax = fig.add_axes(axes_rects[k])
    for d in days:
        ax.plot(hours, d, color='#9a9a9a', lw=1.2, clip_on=False, zorder=2)
    ax.axhline(0, color='#222222', lw=0.8, ls=(0, (3, 2)), zorder=3)
    ax.plot(hours, q75, color='#1a1a1a', lw=1.2, zorder=4)
    ax.plot(hours, q25, color='#1a1a1a', lw=1.2, zorder=4)
    ax.plot(hours, med, color='#111111', lw=2.0, zorder=5)

    xm = max_minutes[k] / 60.0
    y_top, y_bot = max_line_span[k]
    ax.plot([xm, xm], [y_top, y_bot], color='#555555', lw=1.0, zorder=6)
    (x1, y1), (x2, y2) = label_pos[k]
    ax.text(x1, y1, "ΔP$_{\\mathregular{max}}$ (" + max_times[k] + ")", ha='center', va='center',
            fontsize=9.5, color='#222222')
    ax.text(x2, y2, max_texts[k], ha='center', va='center', fontsize=9.5, color='#222222')

    ax.set_xlim(0, 24)
    ax.set_ylim(-1.0, 1.0)
    ax.set_xticks(hour_ticks)
    ax.set_xticklabels(hour_labels, rotation=90, fontsize=12, family=['Liberation Sans'])
    ax.set_yticks(y_ticks)
    ax.set_yticklabels(y_tick_labels, fontsize=13, family=['Open Sans'])
    ax.tick_params(axis='x', direction='out', length=4, width=1, pad=4, color='#444444')
    ax.tick_params(axis='y', direction='out', length=5, width=1, pad=14, color='#444444')
    for s in ['top', 'right']:
        ax.spines[s].set_visible(False)
    for s in ['left', 'bottom']:
        ax.spines[s].set_color('#444444')
        ax.spines[s].set_linewidth(1.0)

    # panel title built from pieces so the subscript sits lower
    fp = dict(family=['Noto Sans CJK JP', 'DejaVu Sans'], fontweight='bold', color='#222222')
    x0, y0 = -4, -17
    t1 = ax.text(0, 1, f"（{panel_letters[k]}）{panel_names[k]}（ΔP",
                 transform=offset_copy(ax.transAxes, fig=fig, x=x0, y=y0, units='dots'),
                 fontsize=12.5, ha='left', va='baseline', zorder=10, **fp)
    w1 = t1.get_window_extent(renderer).width
    t2 = ax.text(0, 1, panel_subs[k],
                 transform=offset_copy(ax.transAxes, fig=fig, x=x0 + w1 + 0.5, y=y0 - 3, units='dots'),
                 fontsize=8, ha='left', va='baseline', zorder=10, **fp)
    w2 = t2.get_window_extent(renderer).width
    ax.text(0, 1, "）", transform=offset_copy(ax.transAxes, fig=fig, x=x0 + w1 + w2 + 1, y=y0, units='dots'),
            fontsize=12.5, ha='left', va='baseline', zorder=10, **fp)

    fig.text(25 / 675, 1 - ylabel_centers[k] / 862, "ΔP（hPa）", rotation=90, ha='center', va='center',
             fontsize=13.5, family=['Noto Sans CJK JP', 'DejaVu Sans'], color='#222222')

fig.savefig("out.png", dpi=100)
